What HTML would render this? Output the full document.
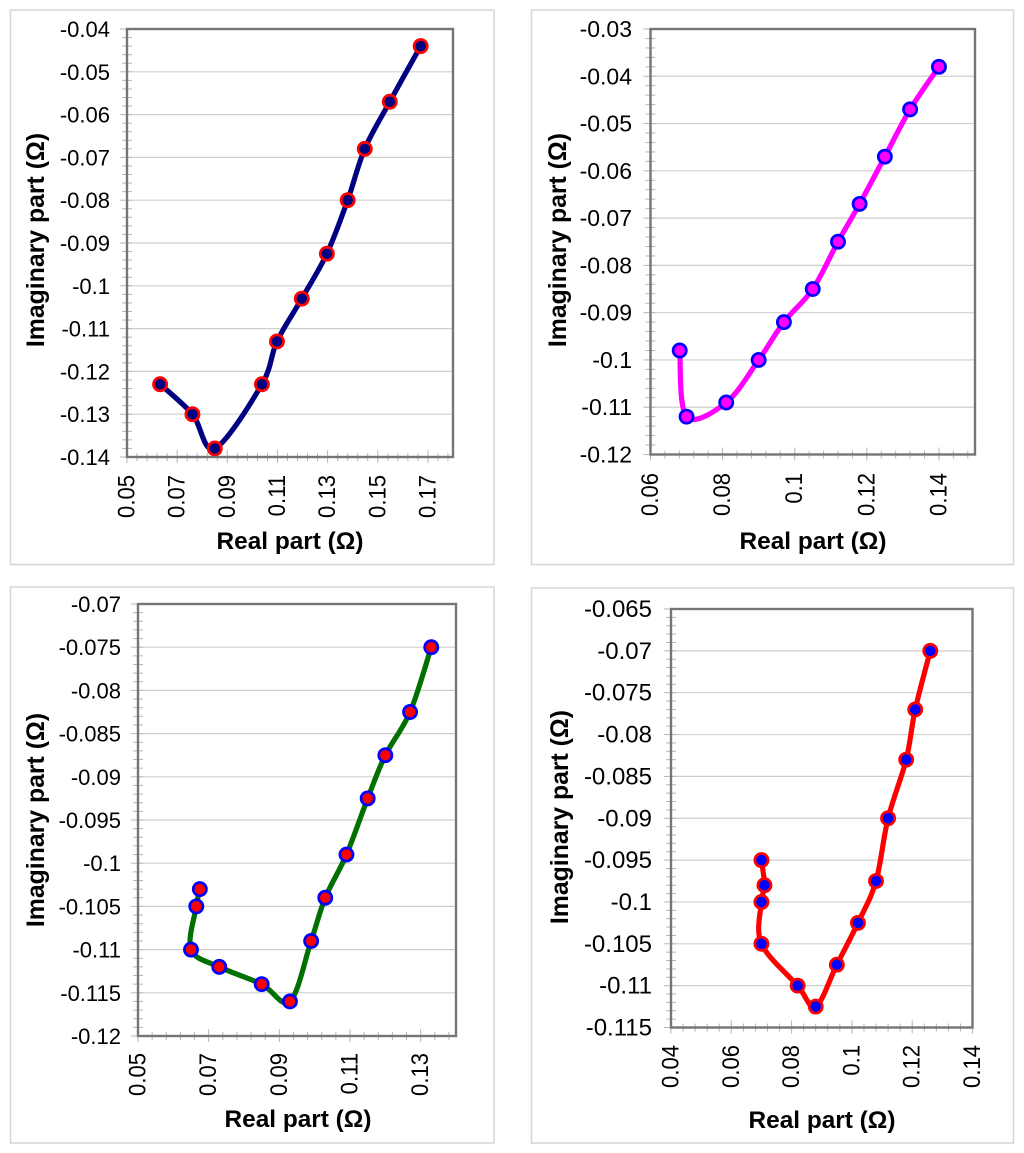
<!DOCTYPE html>
<html lang="en">
<head>
<meta charset="utf-8">
<title>Impedance charts</title>
<style>
html,body{margin:0;padding:0;background:#fff;}
svg{display:block;}
text{font-family:"Liberation Sans",sans-serif;fill:#000;}
</style>
</head>
<body>
<svg id="figure" xmlns="http://www.w3.org/2000/svg" width="1024" height="1153" viewBox="0 0 1024 1153"></svg>
<script>
// Chart 1 values
const chart1Real = [0.0632, 0.0761, 0.085, 0.1038, 0.1098, 0.1197, 0.1297, 0.138, 0.1448, 0.1548, 0.1671];
const chart1Imag = [-0.123, -0.13, -0.138, -0.123, -0.113, -0.103, -0.0925, -0.08, -0.068, -0.057, -0.044];
const chart1XTicks = ["0.05", "0.07", "0.09", "0.11", "0.13", "0.15", "0.17"];
const chart1YTicks = ["-0.04", "-0.05", "-0.06", "-0.07", "-0.08", "-0.09", "-0.1", "-0.11", "-0.12", "-0.13", "-0.14"];

// Chart 2 values
const chart2Real = [0.0681, 0.07, 0.081, 0.09, 0.097, 0.105, 0.112, 0.118, 0.125, 0.132, 0.14];
const chart2Imag = [-0.098, -0.112, -0.109, -0.1, -0.092, -0.085, -0.075, -0.067, -0.057, -0.047, -0.038];
const chart2XTicks = ["0.06", "0.08", "0.1", "0.12", "0.14"];
const chart2YTicks = ["-0.03", "-0.04", "-0.05", "-0.06", "-0.07", "-0.08", "-0.09", "-0.1", "-0.11", "-0.12"];

// Chart 3 values
const chart3Real = [0.0675, 0.0665, 0.065, 0.073, 0.085, 0.093, 0.099, 0.103, 0.109, 0.115, 0.12, 0.127, 0.133];
const chart3Imag = [-0.103, -0.105, -0.11, -0.112, -0.114, -0.116, -0.109, -0.104, -0.099, -0.0925, -0.0875, -0.0825, -0.075];
const chart3XTicks = ["0.05", "0.07", "0.09", "0.11", "0.13"];
const chart3YTicks = ["-0.07", "-0.075", "-0.08", "-0.085", "-0.09", "-0.095", "-0.1", "-0.105", "-0.11", "-0.115", "-0.12"];

// Chart 4 values
const chart4Real = [0.07, 0.071, 0.07, 0.07, 0.082, 0.088, 0.095, 0.102, 0.108, 0.112, 0.118, 0.121, 0.126];
const chart4Imag = [-0.095, -0.098, -0.1, -0.105, -0.11, -0.1125, -0.1075, -0.1025, -0.0975, -0.09, -0.083, -0.077, -0.07];
const chart4XTicks = ["0.04", "0.06", "0.08", "0.1", "0.12", "0.14"];
const chart4YTicks = ["-0.065", "-0.07", "-0.075", "-0.08", "-0.085", "-0.09", "-0.095", "-0.1", "-0.105", "-0.11", "-0.115"];

const NS = "http://www.w3.org/2000/svg";
const figure = document.getElementById("figure");

function make(parent, tag, attrs, content) {
  const el = document.createElementNS(NS, tag);
  for (const key in attrs) el.setAttribute(key, attrs[key]);
  if (content !== undefined) el.textContent = content;
  parent.appendChild(el);
  return el;
}

function smoothPath(pts) {
  let d = "M" + pts[0][0].toFixed(2) + " " + pts[0][1].toFixed(2);
  for (let i = 0; i < pts.length - 1; i++) {
    const p0 = pts[Math.max(i - 1, 0)], p1 = pts[i], p2 = pts[i + 1], p3 = pts[Math.min(i + 2, pts.length - 1)];
    const c1x = p1[0] + (p2[0] - p0[0]) / 6, c1y = p1[1] + (p2[1] - p0[1]) / 6;
    const c2x = p2[0] - (p3[0] - p1[0]) / 6, c2y = p2[1] - (p3[1] - p1[1]) / 6;
    d += "C" + c1x.toFixed(2) + " " + c1y.toFixed(2) + " " + c2x.toFixed(2) + " " + c2y.toFixed(2) + " " + p2[0].toFixed(2) + " " + p2[1].toFixed(2);
  }
  return d;
}

function drawChart(c) {
  const group = make(figure, "g", {});
  
  

  const panel = make(group, "rect", { x: c.panel[0], y: c.panel[1], width: c.panel[2] - c.panel[0], height: c.panel[3] - c.panel[1], fill: "#fff", stroke: "#d6d6d6", "stroke-width": 1.5 });
  
  

  const xTickNums = c.xTicks.map(Number);
  const yTickNums = c.yTicks.map(Number);
  const xStep = xTickNums[1] - xTickNums[0];
  const yStep = yTickNums[0] - yTickNums[1];
  const xScale = v => c.left + (v - c.xMin) / (c.xMax - c.xMin) * (c.right - c.left);
  const yScale = v => c.bottom - (v - c.yMin) / (c.yMax - c.yMin) * (c.bottom - c.top);

  const gridGroup = make(group, "g", { stroke: "#cfcfcf", "stroke-width": 1.2 });
  
  
  yTickNums.slice(1, -1).forEach(v => {
    make(gridGroup, "line", { x1: c.left, x2: c.right, y1: yScale(v), y2: yScale(v) });
  });

  const tickGroup = make(group, "g", { stroke: "#b5b5b5", "stroke-width": 1 });
  
  
  const xMinorCount = Math.round((c.xMax - c.xMin) / (xStep / 5));
  for (let i = 0; i <= xMinorCount; i++) {
    const x = xScale(c.xMin + i * xStep / 5);
    const major = i % 5 === 0;
    make(tickGroup, "line", { x1: x, x2: x, y1: c.bottom - (major ? 7 : 4), y2: c.bottom + (major ? 6 : 4) });
  }
  const yMinorCount = Math.round((c.yMax - c.yMin) / (yStep / 5));
  for (let i = 0; i <= yMinorCount; i++) {
    const y = yScale(c.yMin + i * yStep / 5);
    const major = i % 5 === 0;
    make(tickGroup, "line", { x1: c.left - (major ? 7 : 5), x2: c.left + 5, y1: y, y2: y });
  }

  const frame = make(group, "rect", { x: c.left, y: c.top, width: c.right - c.left, height: c.bottom - c.top, fill: "none", stroke: "#757575", "stroke-width": 2.4 });
  
  

  c.xTicks.forEach(label => {
    const x = xScale(Number(label)) + 7.5;
    const t = make(group, "text", { x: 0, y: 0, "font-size": 24, "text-anchor": "end", transform: "translate(" + x + " " + c.xLabelTop + ") rotate(-90) scale(0.92 1)" }, label);
    
    
  });
  c.yTicks.forEach(label => {
    const t = make(group, "text", { x: c.yLabelRight, y: yScale(Number(label)) + 8, "font-size": c.yFont, "text-anchor": "end" }, label);
    
    
  });

  const xTitle = make(group, "text", { x: c.xTitle[0], y: c.xTitle[1], "font-size": 24.4, "font-weight": "bold", "text-anchor": "middle" }, "Real part (Ω)");
  
  
  const yTitle = make(group, "text", { x: c.yTitle[0], y: c.yTitle[1], "font-size": 24.8, "font-weight": "bold", "text-anchor": "middle", transform: "rotate(-90 " + c.yTitle[0] + " " + c.yTitle[1] + ")" }, "Imaginary part (Ω)");
  
  

  const pts = c.real.map((v, i) => [xScale(v), yScale(c.imag[i])]);
  const line = make(group, "path", { d: smoothPath(pts), fill: "none", stroke: c.lineColor, "stroke-width": 5.2, "stroke-linejoin": "round", "stroke-linecap": "round" });
  
  

  pts.forEach(p => {
    const dot = make(group, "circle", { cx: p[0], cy: p[1], r: 6.6, fill: c.markerFill, stroke: c.markerStroke, "stroke-width": 2.7 });
    
    
  });
}

drawChart({
  name: "chart-top-left", real: chart1Real, imag: chart1Imag, xTicks: chart1XTicks, yTicks: chart1YTicks,
  panel: [10.5, 10, 494, 564.5], left: 127, right: 453, top: 29, bottom: 457,
  xMin: 0.05, xMax: 0.18, yMin: -0.14, yMax: -0.04, yFont: 22,
  xLabelTop: 475, yLabelRight: 110, xTitle: [290, 549], yTitle: [44, 240],
  lineColor: "#000080", markerFill: "#000080", markerStroke: "#ff0000"
});
drawChart({
  name: "chart-top-right", real: chart2Real, imag: chart2Imag, xTicks: chart2XTicks, yTicks: chart2YTicks,
  panel: [531.5, 10, 1013.5, 564.5], left: 650.5, right: 975, top: 29, bottom: 454.5,
  xMin: 0.06, xMax: 0.15, yMin: -0.12, yMax: -0.03, yFont: 23,
  xLabelTop: 473, yLabelRight: 632, xTitle: [813, 549], yTitle: [566, 240],
  lineColor: "#ff00ff", markerFill: "#ff00ff", markerStroke: "#0000ff"
});
drawChart({
  name: "chart-bottom-left", real: chart3Real, imag: chart3Imag, xTicks: chart3XTicks, yTicks: chart3YTicks,
  panel: [10.5, 587, 494, 1143], left: 138, right: 456, top: 604, bottom: 1036,
  xMin: 0.05, xMax: 0.14, yMin: -0.12, yMax: -0.07, yFont: 22,
  xLabelTop: 1053, yLabelRight: 121, xTitle: [298, 1127], yTitle: [44, 820],
  lineColor: "#007000", markerFill: "#ff0000", markerStroke: "#0000ff"
});
drawChart({
  name: "chart-bottom-right", real: chart4Real, imag: chart4Imag, xTicks: chart4XTicks, yTicks: chart4YTicks,
  panel: [531.5, 588, 1013.5, 1143], left: 671, right: 972.5, top: 609, bottom: 1027.5,
  xMin: 0.04, xMax: 0.14, yMin: -0.115, yMax: -0.065, yFont: 24,
  xLabelTop: 1045, yLabelRight: 652, xTitle: [822, 1128], yTitle: [568, 817],
  lineColor: "#ff0000", markerFill: "#0000ff", markerStroke: "#ff0000"
});
</script>
</body>
</html>
